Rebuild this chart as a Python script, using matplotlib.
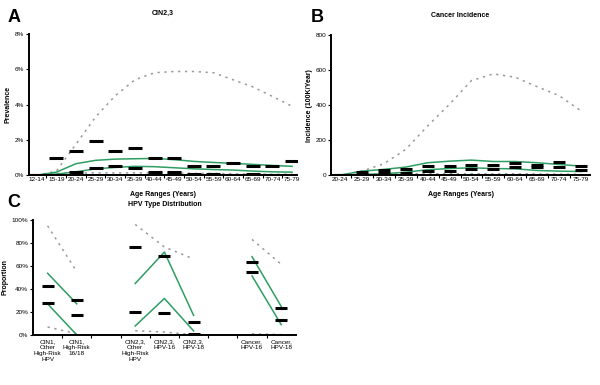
import numpy as np
import matplotlib
matplotlib.use('Agg')
import matplotlib.pyplot as plt
from matplotlib.ticker import FixedLocator, PercentFormatter

# ---- panel A: CIN2,3 prevalence (%)
ages_a = ['12-14', '15-19', '20-24', '25-29', '30-34', '35-39', '40-44',
          '45-49', '50-54', '55-59', '60-64', '65-69', '70-74', '75-79']
a_target_hi = [0, 1.0, 1.39, 1.96, 1.39, 1.54, 0.97, 0.97, 0.53, 0.53, 0.67, 0.53, 0.53, 0.82]
a_target_lo = [0, 0, 0.17, 0.38, 0.5, 0.38, 0.17, 0.17, 0.06, 0.06, 0, 0.08, 0, 0]
a_fit_hi = [0, 0.17, 0.65, 0.84, 0.91, 0.93, 0.95, 0.88, 0.78, 0.72, 0.67, 0.61, 0.55, 0.5]
a_fit_lo = [0, 0.06, 0.19, 0.36, 0.44, 0.5, 0.48, 0.42, 0.36, 0.32, 0.29, 0.23, 0.19, 0.17]
a_prior_hi = [0, 0.23, 1.75, 3.3, 4.5, 5.4, 5.8, 5.87, 5.87, 5.8, 5.4, 5.0, 4.46, 3.9]
a_prior_lo = [0, 0.1, 0.13, 0.13, 0.13, 0.13, 0.13, 0.13, 0.1, 0.1, 0.08, 0.06, 0.05, 0.05]

# ---- panel B: cancer incidence (per 100K/year)
ages_b = ['20-24', '25-29', '30-34', '35-39', '40-44', '45-49',
          '50-54', '55-59', '60-64', '65-69', '70-74', '75-79']
b_target_hi = [3, 17, 32, 35, 52, 50, 57, 57, 68, 60, 75, 52]
b_target_lo = [0, 2, 14, 14, 26, 26, 37, 37, 46, 44, 46, 30]
b_fit_hi = [0, 23, 33, 46, 71, 80, 86, 78, 78, 71, 61, 52]
b_fit_lo = [0, 4, 8, 17, 31, 38, 42, 38, 36, 27, 23, 21]
b_prior_hi = [0, 23, 65, 147, 281, 405, 540, 578, 559, 505, 454, 367]
b_prior_lo = [0, 5, 7, 8, 8, 8, 8, 8, 8, 7, 6, 5]

# ---- panel C: HPV type distribution (%)
c_labels = ['CIN1,\nOther\nHigh-Risk\nHPV', 'CIN1,\nHigh-Risk\n16/18',
            'CIN2,3,\nOther\nHigh-Risk\nHPV', 'CIN2,3,\nHPV-16', 'CIN2,3,\nHPV-18',
            'Cancer,\nHPV-16', 'Cancer,\nHPV-18']
c_pos = [0, 1, 3, 4, 5, 7, 8]
c_groups = [[0, 1], [2, 3, 4], [5, 6]]
c_target_hi = [42.6, 30.3, 76.7, 68.9, 11, 63.5, 23.6]
c_target_lo = [28, 17, 20.2, 19, 1.2, 54.8, 13.3]
c_fit_hi = [53.6, 27, 44.7, 72, 17, 68, 24.8]
c_fit_lo = [27, 0, 7.8, 31.7, 3.5, 51.3, 9]
c_prior_hi = [94.8, 55, 96, 76.4, 66, 83, 61.4]
c_prior_lo = [6.9, 1, 3.7, 2.5, 0.3, 1, 0.3]

green = '#2e9e62'
grey = '#9a9a9a'
fs = 4.6
plt.rcParams['font.family'] = ['Liberation Sans', 'DejaVu Sans']

fig = plt.figure(figsize=(6, 3.85), dpi=100)
axA = fig.add_axes([0.048, 0.545, 0.447, 0.367])
axB = fig.add_axes([0.552, 0.545, 0.431, 0.364])
axC = fig.add_axes([0.055, 0.130, 0.438, 0.299])


def style(ax):
    for s in ['top', 'right']:
        ax.spines[s].set_visible(False)
    for s in ['left', 'bottom']:
        ax.spines[s].set_linewidth(1.4)
    ax.tick_params(axis='both', labelsize=fs, length=2, width=0.8, pad=1.5)
    ax.tick_params(axis='x', which='major', length=0)
    ax.tick_params(axis='x', which='minor', length=2, width=0.8)


def draw(ax, x, hi, lo, fhi, flo, phi, plo, msize):
    ax.plot(x, phi, color=grey, lw=1.1, linestyle=(0, (1.5, 3)))
    ax.plot(x, plo, color=grey, lw=1.1, linestyle=(0, (1.5, 3)))
    ax.plot(x, fhi, color=green, lw=1.1)
    ax.plot(x, flo, color=green, lw=1.1)
    ax.plot(x, hi, linestyle='none', marker='_', markersize=msize, markeredgewidth=2.2, color='black')
    ax.plot(x, lo, linestyle='none', marker='_', markersize=msize, markeredgewidth=2.2, color='black')


# A
xa = np.arange(len(ages_a))
draw(axA, xa, a_target_hi, a_target_lo, a_fit_hi, a_fit_lo, a_prior_hi, a_prior_lo, 9.5)
axA.set_xlim(-0.4, 13.25)
axA.set_ylim(0, 8)
axA.set_yticks([0, 2, 4, 6, 8])
axA.yaxis.set_major_formatter(PercentFormatter(decimals=0))
axA.set_xticks(xa)
axA.set_xticklabels(ages_a)
axA.xaxis.set_minor_locator(FixedLocator(xa[:-1] + 0.5))
axA.set_ylabel('Prevalence', fontsize=fs + 0.4, fontweight='bold', labelpad=2)
axA.set_xlabel('Age Ranges (Years)', fontsize=fs + 0.4, fontweight='bold', labelpad=6)
axA.set_title('CIN2,3', fontsize=fs + 0.4, fontweight='bold', pad=14)
style(axA)

# B
xb = np.arange(len(ages_b))
draw(axB, xb, b_target_hi, b_target_lo, b_fit_hi, b_fit_lo, b_prior_hi, b_prior_lo, 9)
axB.set_xlim(-0.4, 11.4)
axB.set_ylim(0, 800)
axB.set_yticks([0, 200, 400, 600, 800])
axB.set_xticks(xb)
axB.set_xticklabels(ages_b)
axB.xaxis.set_minor_locator(FixedLocator(xb[:-1] + 0.5))
axB.set_ylabel('Incidence (100K/Year)', fontsize=fs + 0.4, fontweight='bold', labelpad=2)
axB.set_xlabel('Age Ranges (Years)', fontsize=fs + 0.4, fontweight='bold', labelpad=6)
axB.set_title('Cancer Incidence', fontsize=fs + 0.4, fontweight='bold', pad=13)
style(axB)

# C
for g in c_groups:
    xs = [c_pos[i] for i in g]
    draw(axC, xs, [c_target_hi[i] for i in g], [c_target_lo[i] for i in g],
         [c_fit_hi[i] for i in g], [c_fit_lo[i] for i in g],
         [c_prior_hi[i] for i in g], [c_prior_lo[i] for i in g], 8)
axC.set_xlim(-0.5, 8.5)
axC.set_ylim(0, 100)
axC.set_yticks([0, 20, 40, 60, 80, 100])
axC.yaxis.set_major_formatter(PercentFormatter(decimals=0))
axC.set_xticks(c_pos)
axC.set_xticklabels(c_labels, linespacing=1.25)
axC.xaxis.set_minor_locator(FixedLocator(np.arange(0.5, 8.5, 1.0)))
axC.set_ylabel('Proportion', fontsize=fs + 0.4, fontweight='bold', labelpad=2)
axC.set_title('HPV Type Distribution', fontsize=fs + 0.4, fontweight='bold', pad=10)
style(axC)
axC.tick_params(axis='x', pad=3)

fig.text(0.012, 0.955, 'A', fontsize=13, fontweight='bold', va='center')
fig.text(0.518, 0.955, 'B', fontsize=13, fontweight='bold', va='center')
fig.text(0.012, 0.475, 'C', fontsize=13, fontweight='bold', va='center')

fig.savefig('out.png', dpi=100)
